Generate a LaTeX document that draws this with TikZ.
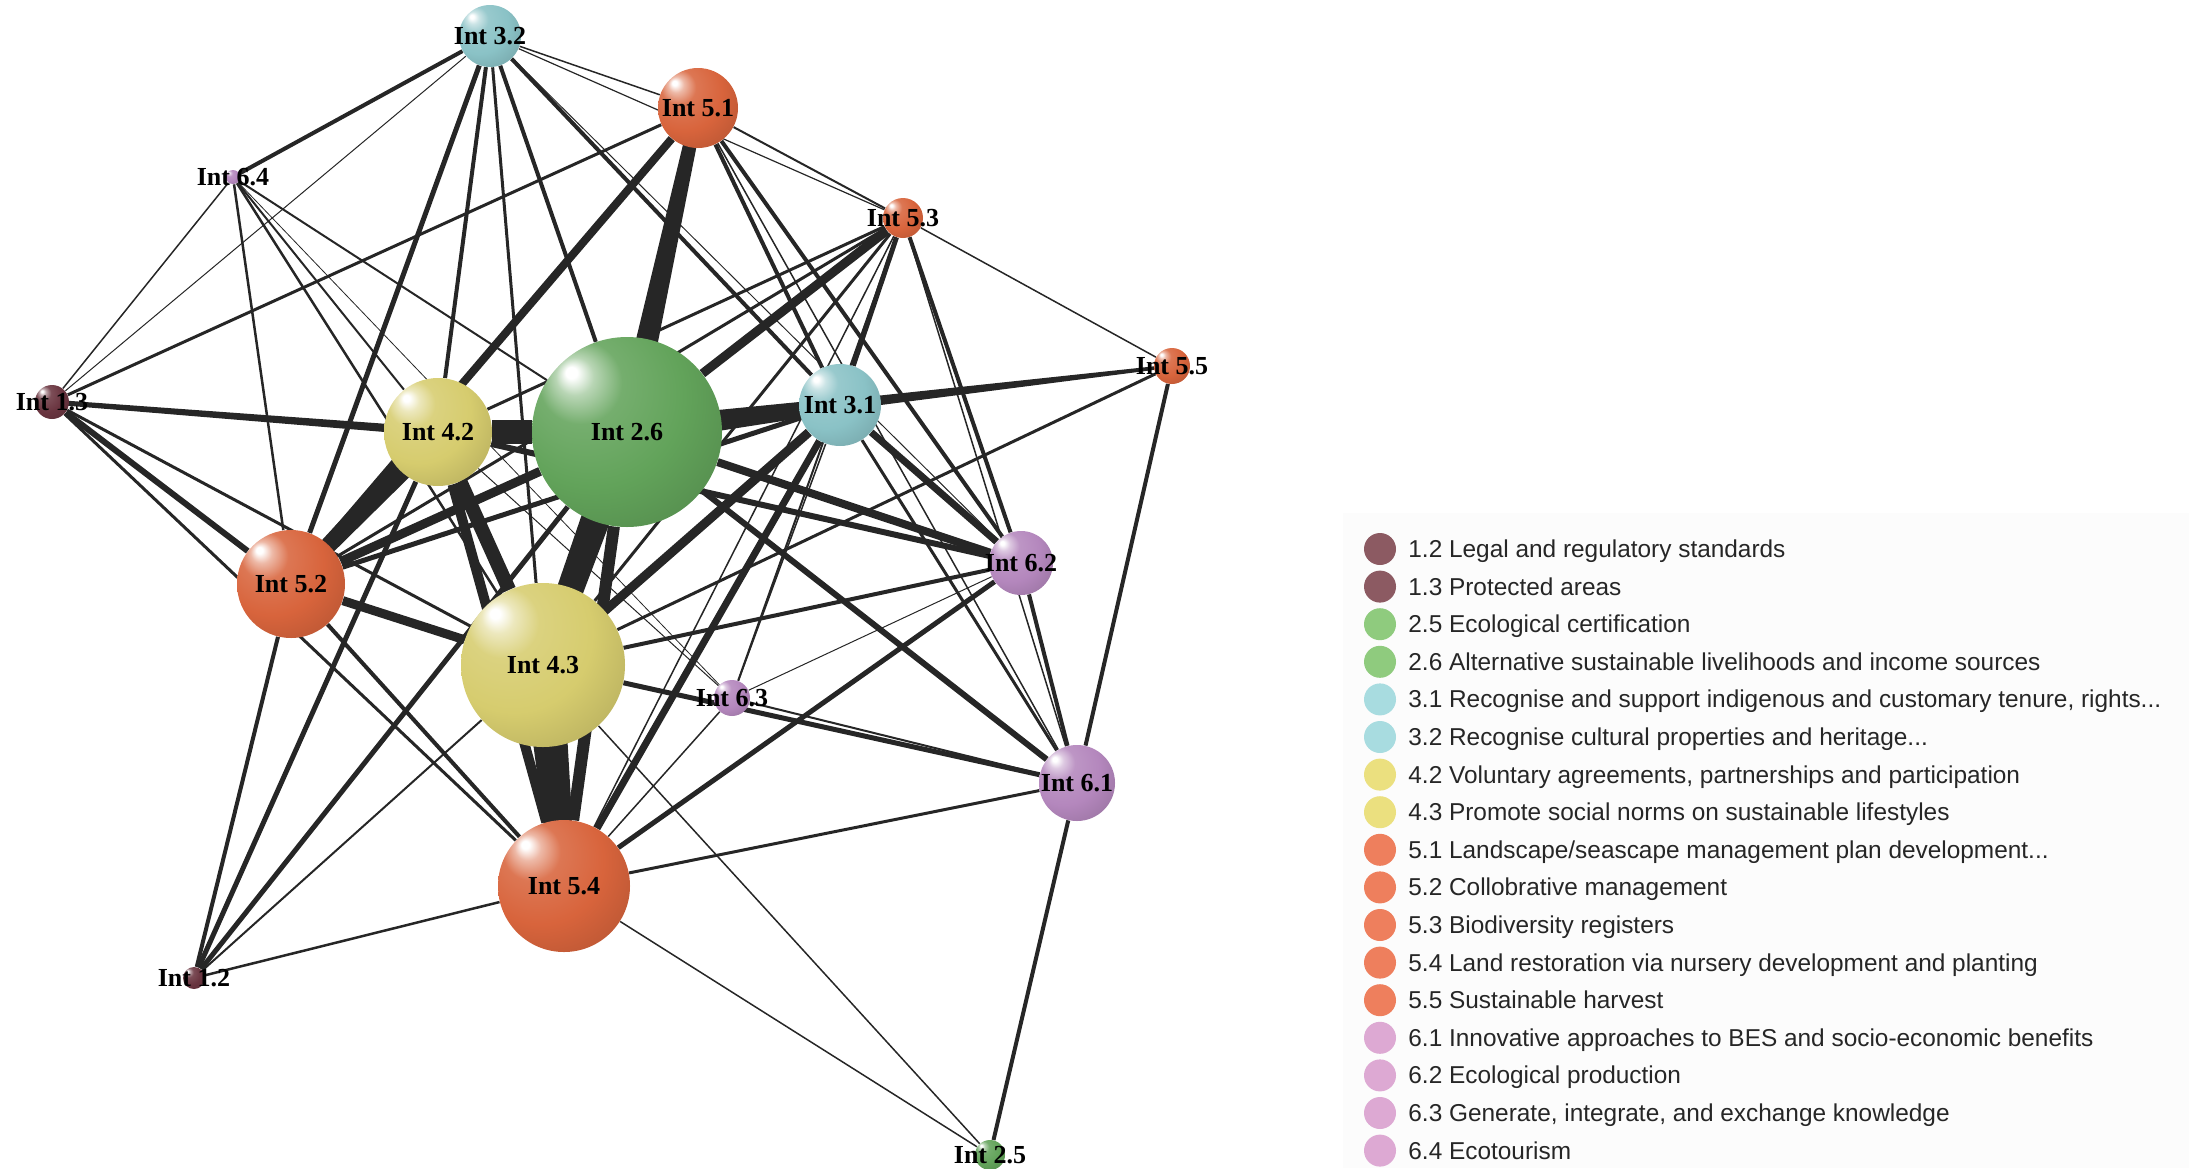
\documentclass[tikz,border=0pt]{standalone}
\usepackage{fontspec}
\setmainfont{Liberation Serif}
\newfontfamily\legendfont{Liberation Sans}
\usetikzlibrary{backgrounds,calc}

\definecolor{edgegray}{HTML}{262626}
\definecolor{legendbg}{HTML}{FCFCFC}
% sphere colours
\definecolor{sphA}{HTML}{6A3540}
\definecolor{sphB}{HTML}{62A35A}
\definecolor{sphC}{HTML}{8AC2C6}
\definecolor{sphD}{HTML}{D6CC6E}
\definecolor{sphE}{HTML}{D8643C}
\definecolor{sphF}{HTML}{B487BD}
% legend colours
\definecolor{legA}{HTML}{8C5A62}
\definecolor{legB}{HTML}{8FCB7E}
\definecolor{legC}{HTML}{A8DCE0}
\definecolor{legD}{HTML}{EBE07F}
\definecolor{legE}{HTML}{EE7F5D}
\definecolor{legF}{HTML}{DDA9D3}

\colorlet{sphc}{sphE}
\pgfdeclareradialshading[sphc]{glossy}{\pgfqpoint{-15bp}{16bp}}{%
  color(0bp)=(white); color(1.5bp)=(white); color(5bp)=(sphc!45!white);
  color(11bp)=(sphc!88!white); color(24bp)=(sphc); color(42bp)=(sphc!82!black);
  color(60bp)=(sphc!62!black)}

\tikzset{
  sphere/.style={circle, inner sep=0pt, minimum size=#1pt, shading=glossy},
  sphcol/.code={\colorlet{sphc}{#1}},
  intlabel/.style={inner sep=0pt, font=\bfseries\fontsize{13}{13}\selectfont},
  edge/.style={draw=edgegray, line cap=butt},
  legdot/.style={circle, inner sep=0pt, minimum size=16pt},
  legtext/.style={inner sep=0pt, anchor=base west, font=\legendfont\fontsize{12.2}{14}\selectfont, text=black!85}
}

% tapered link: from, to, half width at from, half width at to (in pt)
\newcommand\taperlink[4]{%
  \fill[edgegray] ($(#1.center)!#3!90:(#2.center)$) -- ($(#2.center)!#4!-90:(#1.center)$)
    -- ($(#2.center)!#4!90:(#1.center)$) -- ($(#1.center)!#3!-90:(#2.center)$) -- cycle;}

\begin{document}
\begin{tikzpicture}[x=0.5pt,y=-0.5pt]
\useasboundingbox (0,0) rectangle (2189,1168);

% interventions (radius in px)
\node[sphere=11, sphcol=sphA] (n12) at (194,978) {};
\node[sphere=17, sphcol=sphA] (n13) at (52,402) {};
\node[sphere=15, sphcol=sphB] (n25) at (990,1155) {};
\node[sphere=95, sphcol=sphB] (n26) at (627,432) {};
\node[sphere=41, sphcol=sphC] (n31) at (840,405) {};
\node[sphere=31, sphcol=sphC] (n32) at (490,36) {};
\node[sphere=54, sphcol=sphD] (n42) at (438,432) {};
\node[sphere=82, sphcol=sphD] (n43) at (543,665) {};
\node[sphere=40, sphcol=sphE] (n51) at (698,108) {};
\node[sphere=54, sphcol=sphE] (n52) at (291,584) {};
\node[sphere=20, sphcol=sphE] (n53) at (903,218) {};
\node[sphere=66, sphcol=sphE] (n54) at (564,886) {};
\node[sphere=18, sphcol=sphE] (n55) at (1172,366) {};
\node[sphere=38, sphcol=sphF] (n61) at (1077,783) {};
\node[sphere=32, sphcol=sphF] (n62) at (1021,563) {};
\node[sphere=18, sphcol=sphF] (n63) at (732,698) {};
\node[sphere=7,  sphcol=sphF] (n64) at (233,177) {};

\foreach \n/\t in {12/1.2,13/1.3,25/2.5,26/2.6,31/3.1,32/3.2,42/4.2,43/4.3,
                   51/5.1,52/5.2,53/5.3,54/5.4,55/5.5,61/6.1,62/6.2,63/6.3,64/6.4}
  \node[intlabel] (t\n) at (n\n) {Int \t};

\begin{scope}[on background layer]
  \fill[legendbg] (1343,513) rectangle (2189,1168);
  % heavy links
  \taperlink{n51}{n26}{3pt}{6.5pt}
  \taperlink{n26}{n31}{6.5pt}{3.5pt}
  \taperlink{n26}{n43}{8pt}{6pt}
  \taperlink{n43}{n54}{10pt}{6pt}
  \taperlink{n42}{n52}{6pt}{3.5pt}
  \taperlink{n55}{n31}{0.8pt}{2.6pt}
  \taperlink{n13}{n42}{1.2pt}{2.2pt}
  % links, width in px
  \foreach \a/\b/\w in {
    42/26/24, 26/54/12, 42/43/14, 42/54/10,
    52/26/9, 52/43/9, 52/54/4, 52/31/5, 31/43/9,
    31/54/7, 26/62/8, 26/61/6, 42/62/6, 53/26/9, 31/62/7,
    31/61/3, 31/63/1.5,
    12/52/4, 12/42/5, 12/26/5, 12/43/2, 12/54/2.5,
    13/64/1.5, 13/32/1, 13/51/3, 13/43/3, 13/52/6, 13/54/3,
    25/61/4, 25/54/1.5, 25/43/1.5,
    64/32/4, 64/52/2.5, 64/43/2.5, 64/42/2, 64/63/0.8, 64/26/2,
    32/52/5, 32/42/4, 32/43/3, 32/26/4, 32/31/4, 32/51/1.5, 32/53/1.2, 32/62/1,
    51/52/8, 51/31/4, 51/62/4, 51/61/1.5, 51/53/2,
    53/55/1.5, 53/62/4, 53/61/1.5, 53/31/5, 53/42/3, 53/43/3, 53/54/1.5,
    53/63/2, 53/52/3,
    55/43/3, 55/61/4, 55/26/1,
    62/43/4, 62/63/1, 62/54/5, 62/61/4,
    61/43/5, 61/63/2, 61/54/3,
    63/54/1.5, 63/42/1}
    \draw[edge, line width=\w*0.5pt] (n\a) -- (n\b);
\end{scope}

% legend
\foreach \c/\t [count=\i from 0] in {
    legA/{1.2 Legal and regulatory standards},
    legA/{1.3 Protected areas},
    legB/{2.5 Ecological certification},
    legB/{2.6 Alternative sustainable livelihoods and income sources},
    legC/{3.1 Recognise and support indigenous and customary tenure, rights...},
    legC/{3.2 Recognise cultural properties and heritage...},
    legD/{4.2 Voluntary agreements, partnerships and participation},
    legD/{4.3 Promote social norms on sustainable lifestyles},
    legE/{5.1 Landscape/seascape management plan development...},
    legE/{5.2 Collobrative management},
    legE/{5.3 Biodiversity registers},
    legE/{5.4 Land restoration via nursery development and planting},
    legE/{5.5 Sustainable harvest},
    legF/{6.1 Innovative approaches to BES and socio-economic benefits},
    legF/{6.2 Ecological production},
    legF/{6.3 Generate, integrate, and exchange knowledge},
    legF/{6.4 Ecotourism}}
{
  \node[legdot, fill=\c] (ld\i) at (1380,549+37.6*\i) {};
  \node[legtext] (lt\i) at (1408,557.5+37.6*\i) {\t};
}
\end{tikzpicture}
\end{document}
